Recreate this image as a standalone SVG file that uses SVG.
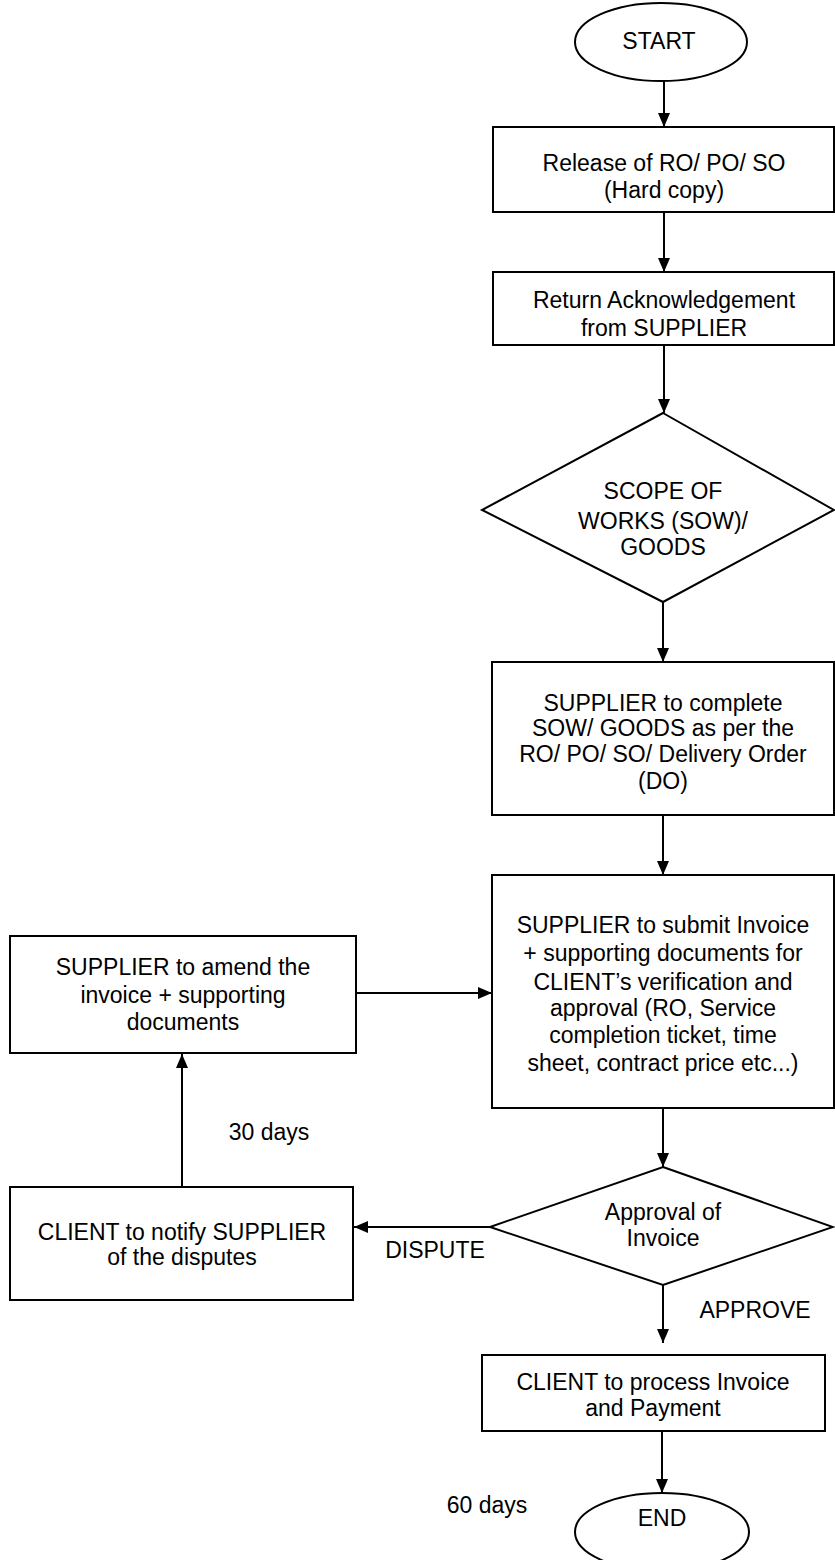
<svg xmlns="http://www.w3.org/2000/svg" width="835" height="1560" viewBox="0 0 835 1560">
<defs>
<marker id="arr" markerUnits="userSpaceOnUse" markerWidth="14" markerHeight="14" viewBox="0 0 14 14" refX="14" refY="7" orient="auto">
<path d="M0,1 L14,7 L0,13 Z" fill="#000"/>
</marker>
<style>
.n{fill:#fff;stroke:#000;stroke-width:2}
.t{font-family:"Liberation Sans",Arial,sans-serif;font-size:23px;fill:#000;text-anchor:middle}
.l{font-family:"Liberation Sans",Arial,sans-serif;font-size:23px;fill:#000;text-anchor:middle}
.c{stroke:#000;stroke-width:2;fill:none;marker-end:url(#arr)}
</style>
</defs>
<rect width="835" height="1560" fill="#fff"/>
<g id="connectors">
<line class="c" x1="664" y1="81" x2="664" y2="127"/>
<line class="c" x1="664" y1="212" x2="664" y2="272"/>
<line class="c" x1="664" y1="345" x2="664" y2="413"/>
<line class="c" x1="663" y1="602" x2="663" y2="662"/>
<line class="c" x1="663" y1="815" x2="663" y2="875"/>
<line class="c" x1="663" y1="1108" x2="663" y2="1167"/>
<line class="c" x1="663" y1="1285" x2="663" y2="1343"/>
<line class="c" x1="662" y1="1431" x2="662" y2="1493"/>
<line class="c" x1="356" y1="993" x2="492" y2="993"/>
<line class="c" x1="490" y1="1227" x2="354" y2="1227"/>
<line class="c" x1="182" y1="1187" x2="182" y2="1054"/>
</g>
<g id="labels">
<text class="l" x="755" y="1318">APPROVE</text>
<text class="l" x="435" y="1258">DISPUTE</text>
<text class="l" x="269" y="1140">30 days</text>
<text class="l" x="487" y="1513">60 days</text>
</g>
<g id="start">
<ellipse class="n" cx="661" cy="42" rx="86" ry="39"/>
<text class="t" x="659" y="49">START</text>
</g>
<g id="release">
<rect class="n" x="493" y="127" width="341" height="85"/>
<text class="t" x="664" y="171">Release of RO/ PO/ SO</text>
<text class="t" x="664" y="198">(Hard copy)</text>
</g>
<g id="ack">
<rect class="n" x="493" y="272" width="341" height="73"/>
<text class="t" x="664" y="308">Return Acknowledgement</text>
<text class="t" x="664" y="336">from SUPPLIER</text>
</g>
<g id="scope">
<polygon class="n" points="663,413 834,510 663,602 482,510"/>
<text class="t" x="663" y="499">SCOPE OF</text>
<text class="t" x="663" y="529">WORKS (SOW)/</text>
<text class="t" x="663" y="555">GOODS</text>
</g>
<g id="complete">
<rect class="n" x="492" y="662" width="342" height="153"/>
<text class="t" x="663" y="711">SUPPLIER to complete</text>
<text class="t" x="663" y="736">SOW/ GOODS as per the</text>
<text class="t" x="663" y="762">RO/ PO/ SO/ Delivery Order</text>
<text class="t" x="663" y="789">(DO)</text>
</g>
<g id="submit">
<rect class="n" x="492" y="875" width="342" height="233"/>
<text class="t" x="663" y="933">SUPPLIER to submit Invoice</text>
<text class="t" x="663" y="961">+ supporting documents for</text>
<text class="t" x="663" y="990">CLIENT’s verification and</text>
<text class="t" x="663" y="1016">approval (RO, Service</text>
<text class="t" x="663" y="1043">completion ticket, time</text>
<text class="t" x="663" y="1071">sheet, contract price etc...)</text>
</g>
<g id="approval">
<polygon class="n" points="663,1167 833,1227 663,1285 490,1227"/>
<text class="t" x="663" y="1220">Approval of</text>
<text class="t" x="663" y="1246">Invoice</text>
</g>
<g id="process">
<rect class="n" x="482" y="1355" width="343" height="76"/>
<text class="t" x="653" y="1390">CLIENT to process Invoice</text>
<text class="t" x="653" y="1416">and Payment</text>
</g>
<g id="end">
<ellipse class="n" cx="662" cy="1532" rx="87" ry="39"/>
<text class="t" x="662" y="1526">END</text>
</g>
<g id="amend">
<rect class="n" x="10" y="936" width="346" height="117"/>
<text class="t" x="183" y="975">SUPPLIER to amend the</text>
<text class="t" x="183" y="1003">invoice + supporting</text>
<text class="t" x="183" y="1030">documents</text>
</g>
<g id="notify">
<rect class="n" x="10" y="1187" width="343" height="113"/>
<text class="t" x="182" y="1240">CLIENT to notify SUPPLIER</text>
<text class="t" x="182" y="1265">of the disputes</text>
</g>
</svg>
